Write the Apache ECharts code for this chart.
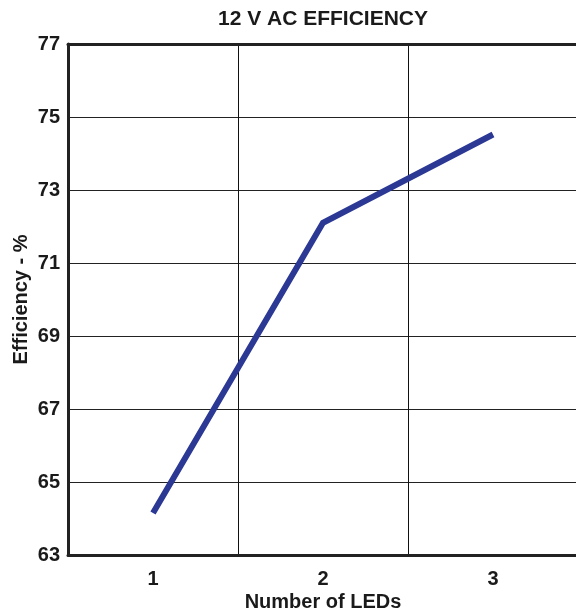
<!DOCTYPE html>
<html>
<head>
<meta charset="utf-8">
<script src="https://cdn.jsdelivr.net/npm/echarts@6/dist/echarts.min.js"></script>
<style>
html,body{margin:0;padding:0;background:#fff;}
#c{width:576px;height:611px;}
</style>
</head>
<body>
<div id="c"></div>
<script>
var categories = ['1', '2', '3'];
var efficiency = [64.15, 72.1, 74.52];
var yMin = 63, yMax = 77, yStep = 2;
var titleText = '12 V AC EFFICIENCY';
var xName = 'Number of LEDs';
var yName = 'Efficiency - %';

var font = '"Liberation Sans", Arial, Helvetica, sans-serif';
var txt = {fontFamily: font, fontWeight: 'bold', fontSize: 20, color: '#1a1a1a'};
var chart = echarts.init(document.getElementById('c'), null, {renderer: 'canvas'});
chart.setOption({
  animation: false,
  backgroundColor: '#fff',
  title: {
    text: titleText,
    left: 213,
    top: 4,
    textStyle: Object.assign({}, txt, {fontSize: 21})
  },
  grid: {
    left: 68, width: 510, top: 44, bottom: 56,
    show: false,
    containLabel: false,
    outerBoundsMode: 'none'
  },
  xAxis: [{
    type: 'category',
    data: categories,
    boundaryGap: true,
    name: xName,
    nameLocation: 'middle',
    nameGap: 37,
    nameMoveOverlap: false,
    nameTextStyle: txt,
    axisLine: {show: true, lineStyle: {color: '#222', width: 3}},
    axisTick: {show: false},
    axisLabel: Object.assign({margin: 14}, txt),
    splitLine: {show: true, interval: 0, lineStyle: {color: '#111', width: 1}}
  }, {
    type: 'category',
    data: categories,
    position: 'top',
    axisLine: {show: true, lineStyle: {color: '#222', width: 3}},
    axisTick: {show: false},
    axisLabel: {show: false},
    splitLine: {show: false}
  }],
  yAxis: {
    type: 'value',
    min: yMin, max: yMax, interval: yStep,
    name: yName,
    nameLocation: 'middle',
    nameGap: 37,
    nameMoveOverlap: false,
    nameTextStyle: txt,
    axisLine: {show: true, lineStyle: {color: '#222', width: 3}},
    axisTick: {show: false},
    axisLabel: Object.assign({margin: 8}, txt),
    splitLine: {show: true, lineStyle: {color: '#222', width: 1}}
  },
  series: [{
    type: 'line',
    data: efficiency,
    showSymbol: false,
    symbol: 'none',
    lineStyle: {color: '#2b3894', width: 6, cap: 'butt', join: 'miter'}
  }]
});
</script>
</body>
</html>
